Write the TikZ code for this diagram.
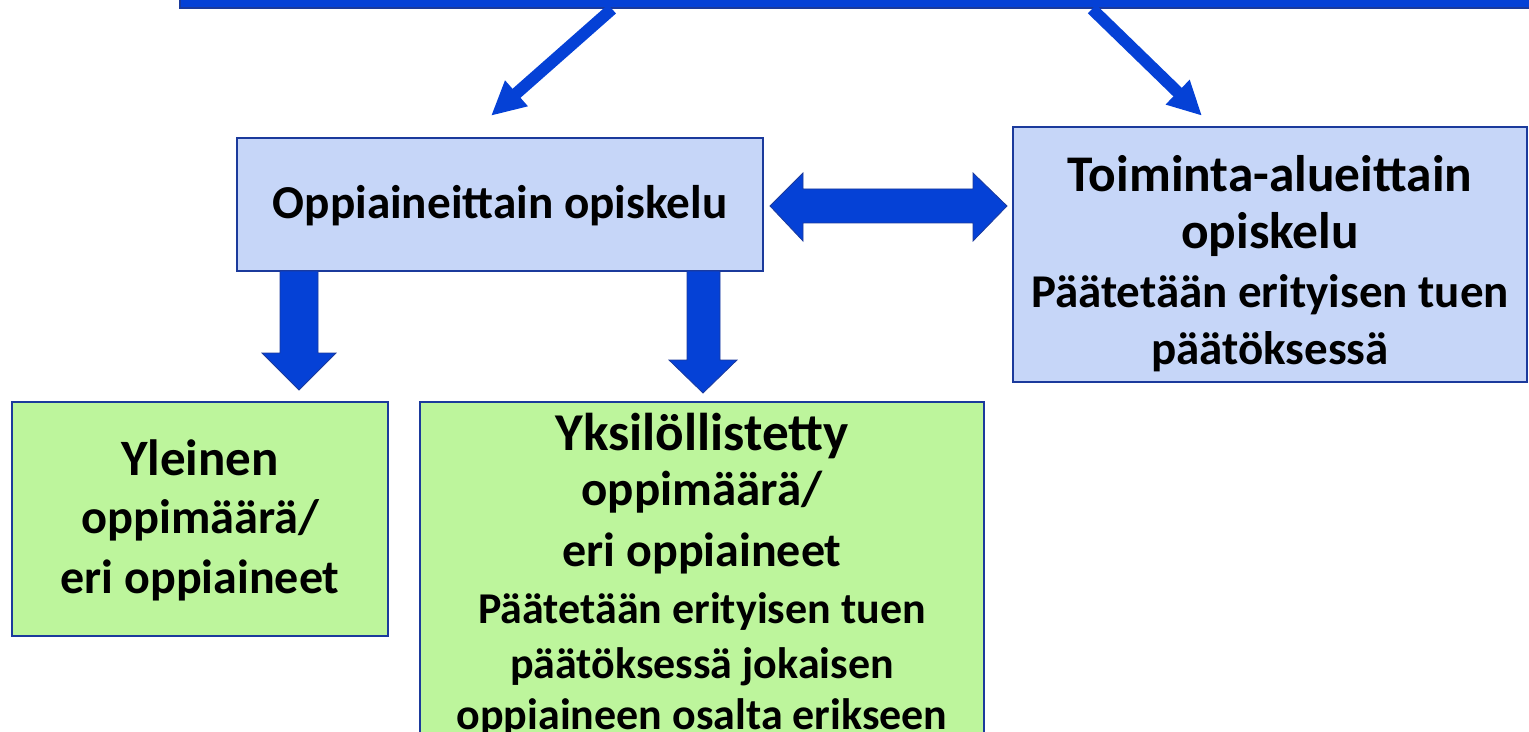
\documentclass[tikz,border=0pt]{standalone}
\usepackage{fontspec}
\setmainfont{Carlito}
\usetikzlibrary{arrows.meta,fit,calc}
\definecolor{arrowblue}{HTML}{0541D6}
\definecolor{edgeblue}{HTML}{1B3A9C}
\definecolor{boxblue}{HTML}{C6D6F8}
\definecolor{boxgreen}{HTML}{BDF59C}
\newcommand{\fs}[2]{\fontsize{#1}{#2}\selectfont}
\begin{document}
\begin{tikzpicture}[x=0.5pt,y=-0.5pt,
  box/.style={draw=edgeblue, line width=1.2pt, inner sep=0pt, align=center},
  bluebox/.style={box, fill=boxblue},
  greenbox/.style={box, fill=boxgreen},
  thinarrow/.style={arrowblue, line width=6pt, -{Triangle[length=17pt,width=16pt]}},
  blockarrow/.style={fill=arrowblue, draw=edgeblue, line width=0.4pt, line join=miter}]
\useasboundingbox (0,0) rectangle (1529,732);
% top bar
\node[fit={(180,-40)(1560,8)}, fill=arrowblue, draw=edgeblue, line width=1pt, inner sep=0pt] (bar) {};
% boxes
\node[bluebox, minimum width=263pt, minimum height=66.5pt, font=\bfseries\fs{23.6}{29}, text depth=3pt] (opp) at (500,204.5) {Oppiaineittain opiskelu};
\node[bluebox, minimum width=257pt, minimum height=127.5pt, font=\bfseries\fs{23.5}{28.5}] (toim) at (1270,254.5)
  {\rule{0pt}{27pt}\fs{25.7}{28.5}Toiminta-alueittain\\ \fs{25.7}{28.5}opiskelu\\[1pt] \fs{23.5}{28.5}Päätetään erityisen tuen\\ \fs{23.5}{28.5}päätöksessä};
\node[greenbox, minimum width=188pt, minimum height=117pt, font=\bfseries\fs{24}{29.5}, text depth=2pt] (yle) at (200,519)
  {\fs{25.5}{29.5}Yleinen\\[-0.5pt] \fs{24.2}{29.5}oppimäärä/\\[0.5pt] \fs{24}{29.5}eri oppiaineet};
\node[greenbox, minimum width=282pt, minimum height=173pt, font=\bfseries\fs{22}{25.5}] (yks) at (702,575)
  {\fs{26.6}{25.5}Yksilöllistetty\\[2pt] \fs{24.5}{25.5}oppimäärä/\\[5pt] \fs{24}{25.5}eri oppiaineet\\[3pt] \fs{22}{25.5}Päätetään erityisen tuen\\[2pt] \fs{22}{25.5}päätöksessä jokaisen\\ \fs{22}{25.5}oppiaineen osalta erikseen};
% thin arrows from the bar
\coordinate (t1) at ($(opp.north)+(-9,-21)$);
\coordinate (t2) at ($(toim.north)+(-68,-10)$);
\draw[thinarrow] (bar.south -| 612,0) -- (t1);
\draw[thinarrow] (bar.south -| 1092,0) -- (t2);
% block arrows
\filldraw[blockarrow] (280,271) -- (318,271) -- (318,353) -- (336,353) -- (299,390) -- (262,353) -- (280,353) -- cycle;
\filldraw[blockarrow] (687,271) -- (720,271) -- (720,360) -- (737,360) -- (703,393) -- (669,360) -- (687,360) -- cycle;
\filldraw[blockarrow] (770,206) -- (803,173) -- (803,189) -- (973,189) -- (973,173) -- (1007,206) -- (973,241) -- (973,223) -- (803,223) -- (803,241) -- cycle;
\end{tikzpicture}
\end{document}
